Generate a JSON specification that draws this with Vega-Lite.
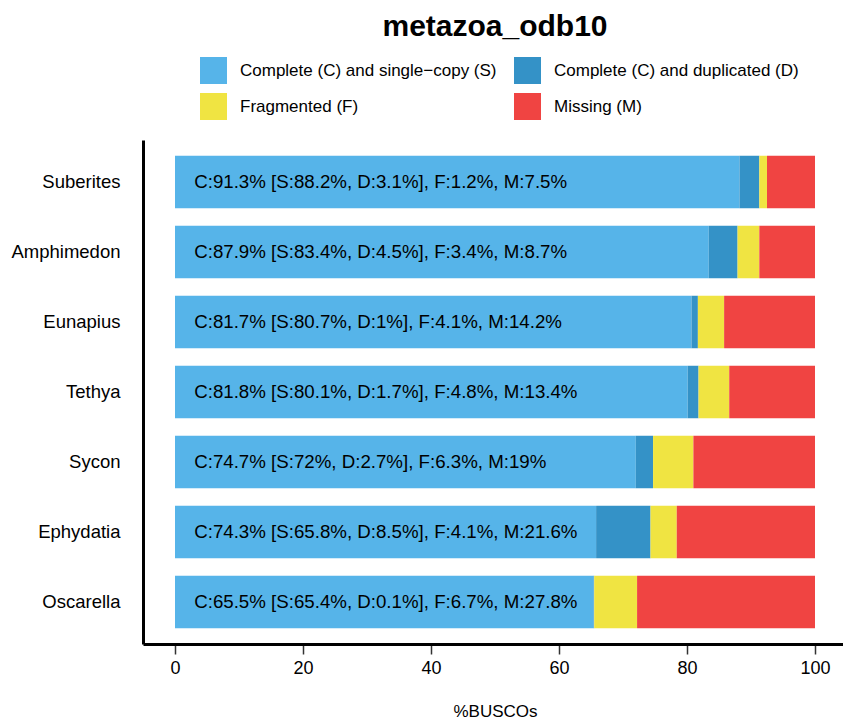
{
  "$schema": "https://vega.github.io/schema/vega-lite/v6.json",
  "autosize": "none",
  "padding": {"left": 143, "top": 140, "right": 0, "bottom": 75},
  "width": 704,
  "height": 504,
  "title": {"text": "metazoa_odb10", "anchor": "middle", "fontSize": 30, "fontWeight": "bold", "font": "Liberation Sans", "color": "#000000", "offset": 15},
  "config": {
    "view": {"stroke": null},
    "font": "Liberation Sans"
  },
  "datasets": {
    "bars": [
      {"species": "Suberites", "rank": 1, "category": "Complete (C) and single−copy (S)", "value": 88.2},
      {"species": "Suberites", "rank": 2, "category": "Complete (C) and duplicated (D)", "value": 3.1},
      {"species": "Suberites", "rank": 3, "category": "Fragmented (F)", "value": 1.2},
      {"species": "Suberites", "rank": 4, "category": "Missing (M)", "value": 7.5},
      {"species": "Amphimedon", "rank": 1, "category": "Complete (C) and single−copy (S)", "value": 83.4},
      {"species": "Amphimedon", "rank": 2, "category": "Complete (C) and duplicated (D)", "value": 4.5},
      {"species": "Amphimedon", "rank": 3, "category": "Fragmented (F)", "value": 3.4},
      {"species": "Amphimedon", "rank": 4, "category": "Missing (M)", "value": 8.7},
      {"species": "Eunapius", "rank": 1, "category": "Complete (C) and single−copy (S)", "value": 80.7},
      {"species": "Eunapius", "rank": 2, "category": "Complete (C) and duplicated (D)", "value": 1.0},
      {"species": "Eunapius", "rank": 3, "category": "Fragmented (F)", "value": 4.1},
      {"species": "Eunapius", "rank": 4, "category": "Missing (M)", "value": 14.2},
      {"species": "Tethya", "rank": 1, "category": "Complete (C) and single−copy (S)", "value": 80.1},
      {"species": "Tethya", "rank": 2, "category": "Complete (C) and duplicated (D)", "value": 1.7},
      {"species": "Tethya", "rank": 3, "category": "Fragmented (F)", "value": 4.8},
      {"species": "Tethya", "rank": 4, "category": "Missing (M)", "value": 13.4},
      {"species": "Sycon", "rank": 1, "category": "Complete (C) and single−copy (S)", "value": 72.0},
      {"species": "Sycon", "rank": 2, "category": "Complete (C) and duplicated (D)", "value": 2.7},
      {"species": "Sycon", "rank": 3, "category": "Fragmented (F)", "value": 6.3},
      {"species": "Sycon", "rank": 4, "category": "Missing (M)", "value": 19.0},
      {"species": "Ephydatia", "rank": 1, "category": "Complete (C) and single−copy (S)", "value": 65.8},
      {"species": "Ephydatia", "rank": 2, "category": "Complete (C) and duplicated (D)", "value": 8.5},
      {"species": "Ephydatia", "rank": 3, "category": "Fragmented (F)", "value": 4.1},
      {"species": "Ephydatia", "rank": 4, "category": "Missing (M)", "value": 21.6},
      {"species": "Oscarella", "rank": 1, "category": "Complete (C) and single−copy (S)", "value": 65.4},
      {"species": "Oscarella", "rank": 2, "category": "Complete (C) and duplicated (D)", "value": 0.1},
      {"species": "Oscarella", "rank": 3, "category": "Fragmented (F)", "value": 6.7},
      {"species": "Oscarella", "rank": 4, "category": "Missing (M)", "value": 27.8}
    ],
    "labels": [
      {"species": "Suberites", "pos": 3, "label": "C:91.3% [S:88.2%, D:3.1%], F:1.2%, M:7.5%"},
      {"species": "Amphimedon", "pos": 3, "label": "C:87.9% [S:83.4%, D:4.5%], F:3.4%, M:8.7%"},
      {"species": "Eunapius", "pos": 3, "label": "C:81.7% [S:80.7%, D:1%], F:4.1%, M:14.2%"},
      {"species": "Tethya", "pos": 3, "label": "C:81.8% [S:80.1%, D:1.7%], F:4.8%, M:13.4%"},
      {"species": "Sycon", "pos": 3, "label": "C:74.7% [S:72%, D:2.7%], F:6.3%, M:19%"},
      {"species": "Ephydatia", "pos": 3, "label": "C:74.3% [S:65.8%, D:8.5%], F:4.1%, M:21.6%"},
      {"species": "Oscarella", "pos": 3, "label": "C:65.5% [S:65.4%, D:0.1%], F:6.7%, M:27.8%"}
    ]
  },
  "encoding": {
    "y": {
      "field": "species", "type": "nominal",
      "sort": ["Suberites", "Amphimedon", "Eunapius", "Tethya", "Sycon", "Ephydatia", "Oscarella"],
      "scale": {"paddingInner": 0.25, "paddingOuter": 0.225},
      "axis": {"title": null, "ticks": false, "domainColor": "#000000", "domainWidth": 3, "labelFontSize": 18.5, "labelColor": "#000000", "labelPadding": 23, "labelFont": "Liberation Sans"}
    }
  },
  "layer": [
    {
      "data": {"name": "bars"},
      "mark": {"type": "bar"},
      "encoding": {
        "x": {
          "field": "value", "type": "quantitative", "stack": "zero",
          "scale": {"domain": [-5, 105], "nice": false, "zero": false},
          "axis": {"title": "%BUSCOs", "values": [0, 20, 40, 60, 80, 100], "grid": false, "domainColor": "#000000", "domainWidth": 3, "tickColor": "#333333", "tickWidth": 1.5, "tickSize": 10, "labelFontSize": 18, "labelColor": "#000000", "labelPadding": 5, "titleFontSize": 17, "titleFontWeight": "normal", "titleColor": "#000000", "titlePadding": 26, "labelFont": "Liberation Sans", "titleFont": "Liberation Sans"}
        },
        "order": {"field": "rank", "type": "quantitative", "sort": "ascending"},
        "color": {
          "field": "category", "type": "nominal",
          "scale": {
            "domain": ["Complete (C) and single−copy (S)", "Complete (C) and duplicated (D)", "Fragmented (F)", "Missing (M)"],
            "range": ["#56B4E9", "#3492C7", "#F0E442", "#F04442"]
          },
          "legend": {
            "title": null, "orient": "none", "legendX": 57, "legendY": -83, "direction": "horizontal", "columns": 2,
            "symbolType": "square", "symbolSize": 729, "symbolStrokeWidth": 0, "labelFontSize": 17, "labelColor": "#000000",
            "labelOffset": 13, "columnPadding": 17, "rowPadding": 9, "padding": 0, "labelFont": "Liberation Sans", "labelLimit": 400
          }
        }
      }
    },
    {
      "data": {"name": "labels"},
      "mark": {"type": "text", "align": "left", "baseline": "middle", "fontSize": 18.7, "color": "#000000", "font": "Liberation Sans"},
      "encoding": {
        "x": {"field": "pos", "type": "quantitative"},
        "text": {"field": "label"}
      }
    }
  ]
}
